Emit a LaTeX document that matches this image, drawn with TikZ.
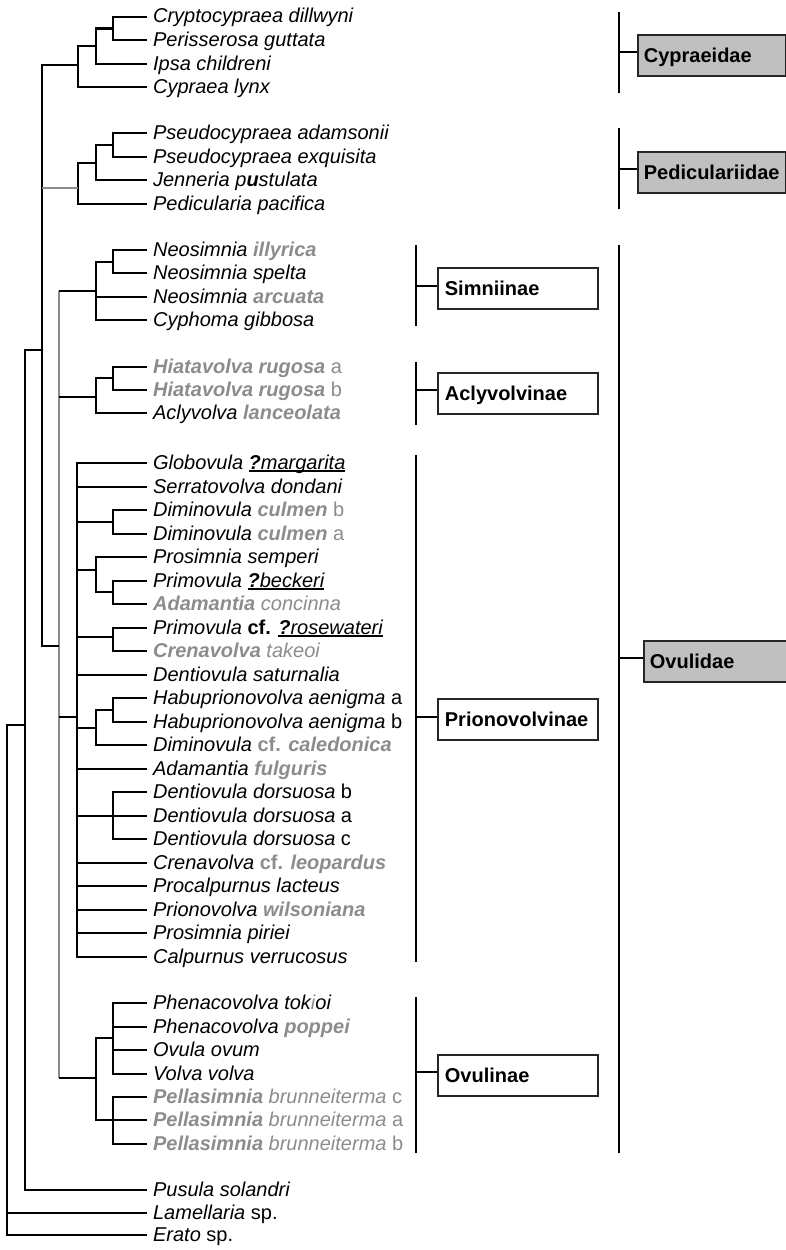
\documentclass[tikz,border=0pt]{standalone}
\usepackage{fontspec}
\setmainfont{Liberation Sans}
\usepackage{xcolor}
\definecolor{cladegray}{RGB}{140,140,140}
\definecolor{boxgray}{RGB}{192,192,192}
\newcommand{\gbi}[1]{{\color{cladegray}\bfseries #1}}
\newsavebox{\ulsave}
\newcommand{\ulmark}[1]{\sbox{\ulsave}{#1}\rlap{\rule[-2.6pt]{\wd\ulsave}{1.2pt}}\usebox{\ulsave}}

\begin{document}
\begin{tikzpicture}[
            x = 1pt, y = -1pt, % one unit per pixel, y runs down
            line width = 2.2pt, % branch line style
            taxon/.style = {anchor=west, inner sep=0pt, inner xsep=5pt,
                text height=12pt, text depth=0pt, font=\fontsize{20}{24}\selectfont\itshape},
            clade/.style = {draw=black!85, line width=1.8pt, anchor=west, inner xsep=7pt,
                minimum height=41pt, text width=146pt, text height=14pt, text depth=0pt,
                align=left, font=\fontsize{20}{24}\selectfont\bfseries},
            family/.style = {clade, fill=boxgray, inner xsep=6pt, text width=136pt},
            graybranch/.style = {draw=cladegray}
        ]
\useasboundingbox (0,0) rectangle (786,1250);

% taxa
\node[taxon] (crypto) at (147,17) {Cryptocypraea dillwyni};
\node[taxon] (peris) at (147,40) {Perisserosa guttata};
\node[taxon] (ipsa) at (147,64) {Ipsa childreni};
\node[taxon] (lynx) at (147,87) {Cypraea lynx};
\node[taxon] (adams) at (147,133) {Pseudocypraea adamsonii};
\node[taxon] (exqui) at (147,157) {Pseudocypraea exquisita};
\node[taxon] (jenne) at (147,180) {Jenneria p\textbf{u}stulata};
\node[taxon] (pedic) at (147,204) {Pedicularia pacifica};
\node[taxon] (illyr) at (147,250) {Neosimnia \gbi{illyrica}};
\node[taxon] (spelt) at (147,273) {Neosimnia spelta};
\node[taxon] (arcua) at (147,297) {Neosimnia \gbi{arcuata}};
\node[taxon] (cypho) at (147,320) {Cyphoma gibbosa};
\node[taxon] (rugoa) at (147,367) {\color{cladegray}\textbf{Hiatavolva rugosa} \textup{a}};
\node[taxon] (rugob) at (147,390) {\color{cladegray}\textbf{Hiatavolva rugosa} \textup{b}};
\node[taxon] (lance) at (147,413) {Aclyvolva \gbi{lanceolata}};
\node[taxon] (globo) at (147,463) {Globovula \ulmark{\textbf{?}margarita}};
\node[taxon] (serra) at (147,487) {Serratovolva dondani};
\node[taxon] (culmb) at (147,510) {Diminovula \gbi{culmen} \textcolor{cladegray}{\textup{b}}};
\node[taxon] (culma) at (147,534) {Diminovula \gbi{culmen} \textcolor{cladegray}{\textup{a}}};
\node[taxon] (sempe) at (147,557) {Prosimnia semperi};
\node[taxon] (becke) at (147,581) {Primovula \ulmark{\textbf{?}beckeri}};
\node[taxon] (conci) at (147,604) {\color{cladegray}\textbf{Adamantia} concinna};
\node[taxon] (rosew) at (147,628) {Primovula \textbf{\textup{cf.}} \ulmark{\textbf{?}rosewateri}};
\node[taxon] (takeo) at (147,651) {\color{cladegray}\textbf{Crenavolva} takeoi};
\node[taxon] (satur) at (147,675) {Dentiovula saturnalia};
\node[taxon] (aenia) at (147,698) {Habuprionovolva aenigma \textup{a}};
\node[taxon] (aenib) at (147,722) {Habuprionovolva aenigma \textup{b}};
\node[taxon] (caled) at (147,745) {Diminovula \gbi{\textup{cf.} caledonica}};
\node[taxon] (fulgu) at (147,769) {Adamantia \gbi{fulguris}};
\node[taxon] (dorsb) at (147,792) {Dentiovula dorsuosa \textup{b}};
\node[taxon] (dorsa) at (147,816) {Dentiovula dorsuosa \textup{a}};
\node[taxon] (dorsc) at (147,839) {Dentiovula dorsuosa \textup{c}};
\node[taxon] (leopa) at (147,863) {Crenavolva \gbi{\textup{cf.} leopardus}};
\node[taxon] (lacte) at (147,886) {Procalpurnus lacteus};
\node[taxon] (wilso) at (147,910) {Prionovolva \gbi{wilsoniana}};
\node[taxon] (pirie) at (147,933) {Prosimnia piriei};
\node[taxon] (verru) at (147,957) {Calpurnus verrucosus};
\node[taxon] (tokio) at (147,1003) {Phenacovolva tok\textcolor{cladegray}{i}oi};
\node[taxon] (poppe) at (147,1027) {Phenacovolva \gbi{poppei}};
\node[taxon] (ovum) at (147,1050) {Ovula ovum};
\node[taxon] (volva) at (147,1074) {Volva volva};
\node[taxon] (brunc) at (147,1097) {\color{cladegray}\textbf{Pellasimnia} brunneiterma \textup{c}};
\node[taxon] (bruna) at (147,1120) {\color{cladegray}\textbf{Pellasimnia} brunneiterma \textup{a}};
\node[taxon] (brunb) at (147,1144) {\color{cladegray}\textbf{Pellasimnia} brunneiterma \textup{b}};
\node[taxon] (pusul) at (147,1190) {Pusula solandri};
\node[taxon] (lamel) at (147,1213) {Lamellaria \textup{sp.}};
\node[taxon] (erato) at (147,1235) {Erato \textup{sp.}};

% inner nodes
\coordinate (cyA) at (113,28.5);
\coordinate (cyB) at (96,46);
\coordinate (cyC) at (78,65);
\coordinate (peA) at (113,145);
\coordinate (peB) at (96,163);
\coordinate (peC) at (78,188);
\coordinate (siA) at (113,262);
\coordinate (siB) at (96,291);
\coordinate (acA) at (113,378);
\coordinate (acB) at (96,397);
\coordinate (prCu) at (113,522);
\coordinate (prBe) at (113,592);
\coordinate (prSe) at (96,570);
\coordinate (prRo) at (113,637);
\coordinate (prAe) at (113,710);
\coordinate (prHa) at (96,728);
\coordinate (prDo) at (113,816);
\coordinate (prA) at (77,717);
\coordinate (ovA) at (113,1038);
\coordinate (ovB) at (113,1120);
\coordinate (ovC) at (96,1078);
\coordinate (ovd) at (59,646);
\coordinate (trunk) at (42,350);
\coordinate (ing) at (25,725);
\coordinate (root) at (7,1213);

% Cypraeidae
\draw (cyA) |- (crypto.west); \draw (cyA) |- (peris.west);
\draw (cyB) |- (cyA); \draw (cyB) |- (ipsa.west);
\draw (cyC) |- (cyB); \draw (cyC) |- (lynx.west);

% Pediculariidae
\draw (peA) |- (adams.west); \draw (peA) |- (exqui.west);
\draw (peB) |- (peA); \draw (peB) |- (jenne.west);
\draw (peC) |- (peB); \draw (peC) |- (pedic.west);

% Simniinae, Aclyvolvinae
\draw (siA) |- (illyr.west); \draw (siA) |- (spelt.west);
\draw (siB) |- (siA); \draw (siB) |- (arcua.west); \draw (siB) |- (cypho.west);
\draw (acA) |- (rugoa.west); \draw (acA) |- (rugob.west);
\draw (acB) |- (acA); \draw (acB) |- (lance.west);

% Prionovolvinae
\draw (prCu) |- (culmb.west); \draw (prCu) |- (culma.west);
\draw (prBe) |- (becke.west); \draw (prBe) |- (conci.west);
\draw (prSe) |- (sempe.west); \draw (prSe) |- (prBe);
\draw (prRo) |- (rosew.west); \draw (prRo) |- (takeo.west);
\draw (prAe) |- (aenia.west); \draw (prAe) |- (aenib.west);
\draw (prHa) |- (prAe); \draw (prHa) |- (caled.west);
\draw (prDo) |- (dorsb.west); \draw (prDo) -- (dorsa.west); \draw (prDo) |- (dorsc.west);
\draw (prA) |- (globo.west); \draw (prA) |- (serra.west);
\draw (prA) |- (prCu); \draw (prA) |- (prSe); \draw (prA) |- (prRo);
\draw (prA) |- (satur.west); \draw (prA) |- (prHa); \draw (prA) |- (fulgu.west);
\draw (prA) |- (prDo); \draw (prA) |- (leopa.west); \draw (prA) |- (lacte.west);
\draw (prA) |- (wilso.west); \draw (prA) |- (pirie.west); \draw (prA) |- (verru.west);

% Ovulinae
\draw (ovA) |- (tokio.west); \draw (ovA) |- (poppe.west);
\draw (ovA) |- (ovum.west); \draw (ovA) |- (volva.west);
\draw (ovB) |- (brunc.west); \draw (ovB) -- (bruna.west); \draw (ovB) |- (brunb.west);
\draw (ovC) |- (ovA); \draw (ovC) |- (ovB);

% Ovulidae stem
\draw[graybranch] (siB -| ovd) -- (ovC -| ovd);
\draw (siB -| ovd) -- (siB); \draw (acB -| ovd) -- (acB);
\draw (prA -| ovd) -- (prA); \draw (ovC -| ovd) -- (ovC);

% backbone
\draw (trunk) |- (cyC); \draw (trunk) |- (ovd);
\draw[graybranch] (trunk |- peC) -- (peC);
\draw (ing) |- (trunk); \draw (ing) |- (pusul.west);
\draw (root) |- (ing); \draw (root) -- (lamel.west); \draw (root) |- (erato.west);

% clade boxes
\node[family] (cypra) at (637,55.5) {Cypraeidae};
\node[family] (pedid) at (637,172.5) {Pediculariidae};
\node[family] (ovuld) at (643,661.5) {Ovulidae};
\node[clade] (simni) at (437,288.5) {Simniinae};
\node[clade] (aclyv) at (437,393.5) {Aclyvolvinae};
\node[clade] (prion) at (437,719.5) {Prionovolvinae};
\node[clade] (ovuln) at (437,1075.5) {Ovulinae};

% brackets
\coordinate (cyprabar) at (619,52);
\coordinate (pedidbar) at (619,169);
\coordinate (ovuldbar) at (619,658);
\coordinate (simnibar) at (416,286);
\coordinate (aclyvbar) at (416,390);
\coordinate (prionbar) at (416,717);
\coordinate (ovulnbar) at (416,1072);
\draw (619,12) -- (619,93);
\draw (619,128) -- (619,209);
\draw (619,245) -- (619,1153);
\draw (416,245) -- (416,326);
\draw (416,362) -- (416,425);
\draw (416,455) -- (416,962);
\draw (416,997) -- (416,1153);
\draw (cyprabar) -- (cyprabar -| cypra.west);
\draw (pedidbar) -- (pedidbar -| pedid.west);
\draw (ovuldbar) -- (ovuldbar -| ovuld.west);
\draw (simnibar) -- (simnibar -| simni.west);
\draw (aclyvbar) -- (aclyvbar -| aclyv.west);
\draw (prionbar) -- (prionbar -| prion.west);
\draw (ovulnbar) -- (ovulnbar -| ovuln.west);

\end{tikzpicture}
\end{document}
